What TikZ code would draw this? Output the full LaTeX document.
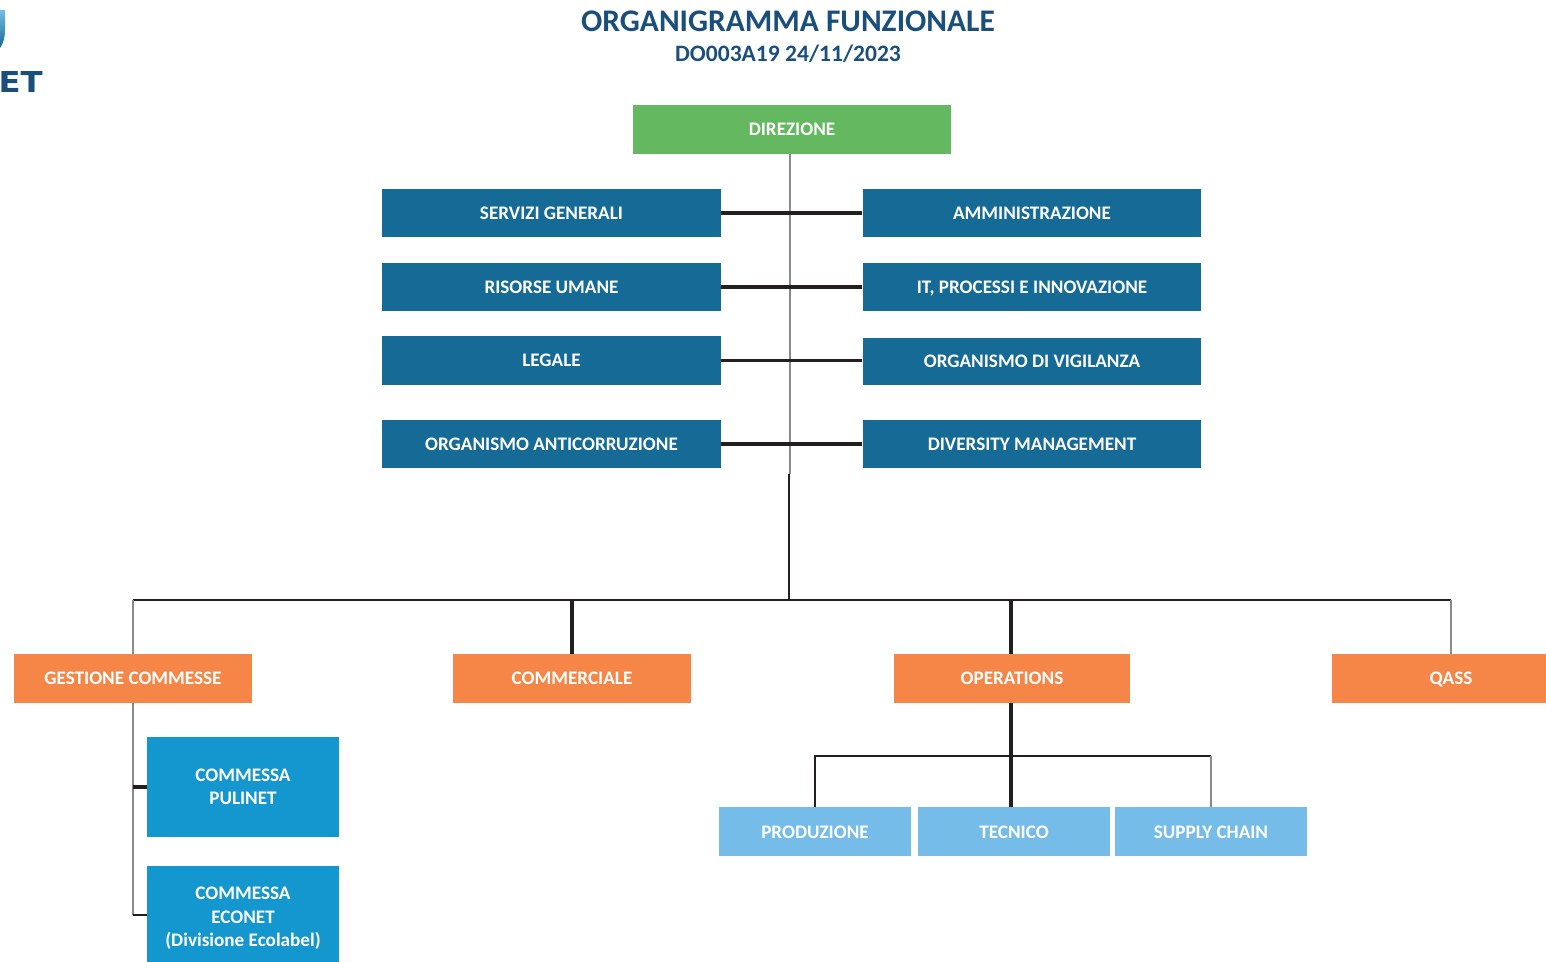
\documentclass[tikz,border=0pt]{standalone}
\usepackage{fontspec}
\setmainfont{Carlito}
\newfontfamily\logofont{DejaVu Sans}
\usepackage{xcolor}
\definecolor{titleblue}{HTML}{1A4F7C}
\definecolor{staffblue}{HTML}{156A96}
\definecolor{dirgreen}{HTML}{64B85F}
\definecolor{areaorange}{HTML}{F68647}
\definecolor{jobblue}{HTML}{1496CF}
\definecolor{opsblue}{HTML}{76BCE8}
\definecolor{linegrey}{HTML}{8A8A8A}
\definecolor{linedark}{HTML}{231F20}
\tikzset{
  box/.style={rectangle, inner sep=0pt, text=white, align=center, font=\bfseries\fontsize{10.9}{13.3}\selectfont},
  oneline/.style={box, text height=7.4pt, text depth=0pt},
  dirbox/.style={oneline, fill=dirgreen, minimum width=6.36cm, minimum height=0.98cm},
  staffbox/.style={oneline, fill=staffblue, minimum width=6.78cm, minimum height=0.97cm},
  areabox/.style={oneline, fill=areaorange, minimum width=4.76cm, minimum height=0.98cm},
  jobbox/.style={box, fill=jobblue, minimum width=3.84cm, minimum height=2cm},
  opsbox/.style={oneline, fill=opsblue, minimum width=3.84cm, minimum height=0.98cm},
  greyline/.style={linegrey, line width=1.3pt},
  darkline/.style={linedark, line width=0.9pt},
  heavyline/.style={linedark, line width=2pt}
}

\begin{document}
\begin{tikzpicture}[x=0.02cm, y=-0.02cm]
      \clip (0, 0) rectangle (1546, 962);
      \node[text=titleblue, font=\bfseries\fontsize{17.9}{20}\selectfont] (title) at (788, 21) {ORGANIGRAMMA FUNZIONALE};
      \node[text=titleblue, font=\bfseries\fontsize{13.4}{15}\selectfont] (code) at (788, 54) {DO003A19 24/11/2023};
      \node[text=titleblue, font=\logofont\bfseries\fontsize{16.4}{18}\selectfont, anchor=east, inner sep=0pt, xscale=1.12] (logo) at (43, 82) {ET};
      \shade[top color=opsblue, bottom color=staffblue] (0, 10) -- (5, 10) -- (5, 30) .. controls (5, 38) and (3, 44) .. (0, 48) -- cycle;

      \node[dirbox] (direzione) at (792, 129.5) {DIREZIONE};
      \node[staffbox] (servizi) at (551.5, 213) {SERVIZI GENERALI};
      \node[staffbox] (risorse) at (551.5, 287) {RISORSE UMANE};
      \node[staffbox] (legale) at (551.5, 360.5) {LEGALE};
      \node[staffbox] (anticorr) at (551.5, 444) {ORGANISMO ANTICORRUZIONE};
      \node[staffbox] (ammin) at (1032, 213) {AMMINISTRAZIONE};
      \node[staffbox] (processi) at (1032, 287) {IT, PROCESSI E INNOVAZIONE};
      \node[staffbox, minimum height=0.94cm] (vigilanza) at (1032, 361.5) {ORGANISMO DI VIGILANZA};
      \node[staffbox] (diversity) at (1032, 444) {DIVERSITY MANAGEMENT};

      \node[areabox] (gestione) at (133, 678.5) {GESTIONE COMMESSE};
      \node[areabox] (commerciale) at (572, 678.5) {COMMERCIALE};
      \node[areabox, minimum width=4.72cm] (operations) at (1012, 678.5) {OPERATIONS};
      \node[areabox] (qass) at (1451, 678.5) {QASS};

      \node[jobbox] (pulinet) at (243, 787) {COMMESSA\\PULINET};
      \node[jobbox, minimum height=2.1cm] (econet) at (243, 918.5) {COMMESSA\\ECONET\\(Divisione Ecolabel)};

      \node[opsbox] (produzione) at (815, 831.5) {PRODUZIONE};
      \node[opsbox] (tecnico) at (1014, 831.5) {TECNICO};
      \node[opsbox] (supply) at (1211, 831.5) {SUPPLY CHAIN};

      \coordinate (trunktop) at (790, 154);
      \coordinate (trunkmid) at (790, 474);
      \coordinate (bus) at (789, 600);
      \coordinate (opsbus) at (1011, 756);
      \coordinate (econetjoin) at (147, 915);

      \draw[greyline] (trunktop) -- (trunkmid);
      \draw[darkline] (trunkmid -| bus) -- (bus);

      \draw[heavyline] (servizi.east) -- (ammin.west);
      \draw[heavyline] (risorse.east) -- (processi.west);
      \draw[darkline, line width=1.2pt] (legale.east) -- (legale.east -| vigilanza.west);
      \draw[heavyline, line width=2.6pt] (anticorr.east) -- (diversity.west);

      \draw[darkline] (gestione.north |- bus) -- (qass.north |- bus);
      \draw[greyline] (gestione.north |- bus) -- (gestione.north);
      \draw[heavyline] (commerciale.north |- bus) -- (commerciale.north);
      \draw[heavyline] (opsbus |- bus) -- (opsbus |- operations.north);
      \draw[greyline] (qass.north |- bus) -- (qass.north);

      \draw[greyline] (gestione.south) -- (gestione.south |- econetjoin);
      \draw[heavyline] (pulinet.west) -- (pulinet.west -| gestione.south);
      \draw[darkline] (econetjoin) -- (econetjoin -| gestione.south);

      \draw[heavyline] (opsbus |- operations.south) -- (opsbus |- tecnico.north);
      \draw[darkline] (produzione.north) -- (produzione.north |- opsbus) -- (supply.north |- opsbus);
      \draw[greyline] (supply.north |- opsbus) -- (supply.north);
    \end{tikzpicture}
\end{document}
